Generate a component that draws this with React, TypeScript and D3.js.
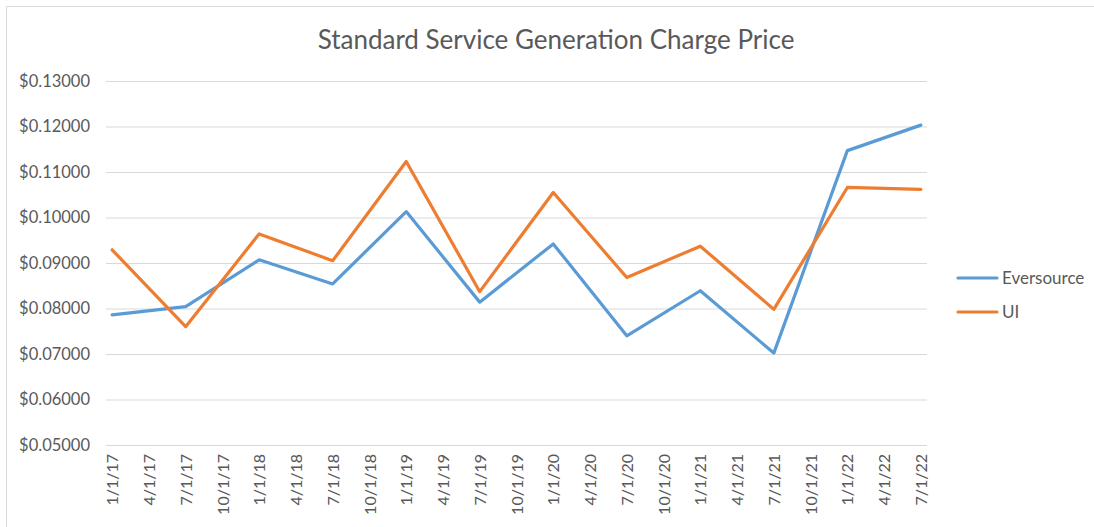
import React, { useEffect, useRef } from "react"
import * as d3 from "d3"

// quarterly tick labels on the date axis
const tickLabels = [
  "1/1/17", "4/1/17", "7/1/17", "10/1/17",
  "1/1/18", "4/1/18", "7/1/18", "10/1/18",
  "1/1/19", "4/1/19", "7/1/19", "10/1/19",
  "1/1/20", "4/1/20", "7/1/20", "10/1/20",
  "1/1/21", "4/1/21", "7/1/21", "10/1/21",
  "1/1/22", "4/1/22", "7/1/22",
]

// data points only exist every six months
const pointDates = [
  "1/1/17", "7/1/17", "1/1/18", "7/1/18", "1/1/19", "7/1/19",
  "1/1/20", "7/1/20", "1/1/21", "7/1/21", "1/1/22", "7/1/22",
]
const eversource = [
  0.0786, 0.0804, 0.0907, 0.0854, 0.1013, 0.0814,
  0.0942, 0.0740, 0.0839, 0.0702, 0.1147, 0.1203,
]
const ui = [
  0.0929, 0.0760, 0.0964, 0.0905, 0.1123, 0.0837,
  0.1055, 0.0868, 0.0937, 0.0798, 0.1066, 0.1062,
]
const yTicks = [0.05, 0.06, 0.07, 0.08, 0.09, 0.1, 0.11, 0.12, 0.13]

const series = [
  { name: "Eversource", values: eversource, color: "#5B9BD5" },
  { name: "UI", values: ui, color: "#ED7D31" },
]

const W = 1094
const H = 527
const font = "Lato, 'Open Sans', sans-serif"

// months since 1/1/17
function monthIndex(s: string) {
  const [m, , y] = s.split("/").map(Number)
  return (y - 17) * 12 + (m - 1)
}

export default function App() {
  const ref = useRef<SVGSVGElement>(null)

  useEffect(() => {
    const svg = d3.select(ref.current)
    svg.selectAll("*").remove()

    const left = 106
    const right = 927
    const top = 81
    const bottom = 445

    const x = d3.scaleLinear().domain([-0.5, 66.5]).range([left, right])
    const y = d3.scaleLinear().domain([0.05, 0.13]).range([bottom, top])

    svg.append("rect")
      .attr("width", W).attr("height", H).attr("fill", "#fff")

    // chart frame (only top and left edges visible)
    svg.append("path")
      .attr("d", `M6.5,${H} V6.5 H${W}`)
      .attr("fill", "none")
      .attr("stroke", "#d9d9d9")
      .attr("stroke-width", 1)

    svg.append("text")
      .attr("x", 556).attr("y", 49)
      .attr("text-anchor", "middle")
      .attr("font-family", font)
      .attr("font-size", 26)
      .attr("fill", "#595959")
      .text("Standard Service Generation Charge Price")

    // y gridlines + labels
    const yAxis = d3.axisLeft(y)
      .tickValues(yTicks)
      .tickSize(-(right - left))
      .tickPadding(16)
      .tickFormat(d => "$" + d3.format(".5f")(d as number))
    const gy = svg.append("g")
      .attr("transform", `translate(${left},0)`)
      .call(yAxis)
    gy.select(".domain").remove()
    gy.selectAll(".tick line")
      .attr("stroke", "#d9d9d9")
      .attr("stroke-width", 1)
    gy.selectAll(".tick text")
      .attr("font-family", font)
      .attr("font-size", 16.5)
      .attr("fill", "#595959")

    // x axis with quarterly labels
    const xAxis = d3.axisBottom(x)
      .tickValues(tickLabels.map(monthIndex))
      .tickSize(0)
      .tickFormat((d, i) => tickLabels[i])
    const gx = svg.append("g")
      .attr("transform", `translate(0,${bottom})`)
      .call(xAxis)
    gx.select(".domain")
      .attr("stroke", "#d9d9d9")
      .attr("d", `M${left},0.5H${right}`)
    gx.selectAll(".tick text")
      .attr("font-family", font)
      .attr("font-size", 16)
      .attr("fill", "#595959")
      .attr("transform", "rotate(-90)")
      .attr("text-anchor", "end")
      .attr("dy", "0.35em")
      .attr("x", -9)
      .attr("y", 0)

    const line = d3.line<number>()
      .x((d, i) => x(monthIndex(pointDates[i])))
      .y(d => y(d))

    series.forEach(s => {
      svg.append("path")
        .datum(s.values)
        .attr("d", line)
        .attr("fill", "none")
        .attr("stroke", s.color)
        .attr("stroke-width", 3.2)
        .attr("stroke-linejoin", "round")
        .attr("stroke-linecap", "round")
    })

    // legend
    const lg = svg.append("g")
    series.forEach((s, i) => {
      const ly = 278 + i * 34
      lg.append("line")
        .attr("x1", 958).attr("x2", 997)
        .attr("y1", ly).attr("y2", ly)
        .attr("stroke", s.color)
        .attr("stroke-width", 3.2)
        .attr("stroke-linecap", "round")
      lg.append("text")
        .attr("x", 1002).attr("y", ly)
        .attr("dy", "0.35em")
        .attr("font-family", font)
        .attr("font-size", 17)
        .attr("fill", "#595959")
        .text(s.name)
    })
  }, [])

  return (
    <svg
      ref={ref}
      width={W}
      height={H}
      style={{ position: "absolute", left: 0, top: 0 }}
    />
  )
}
